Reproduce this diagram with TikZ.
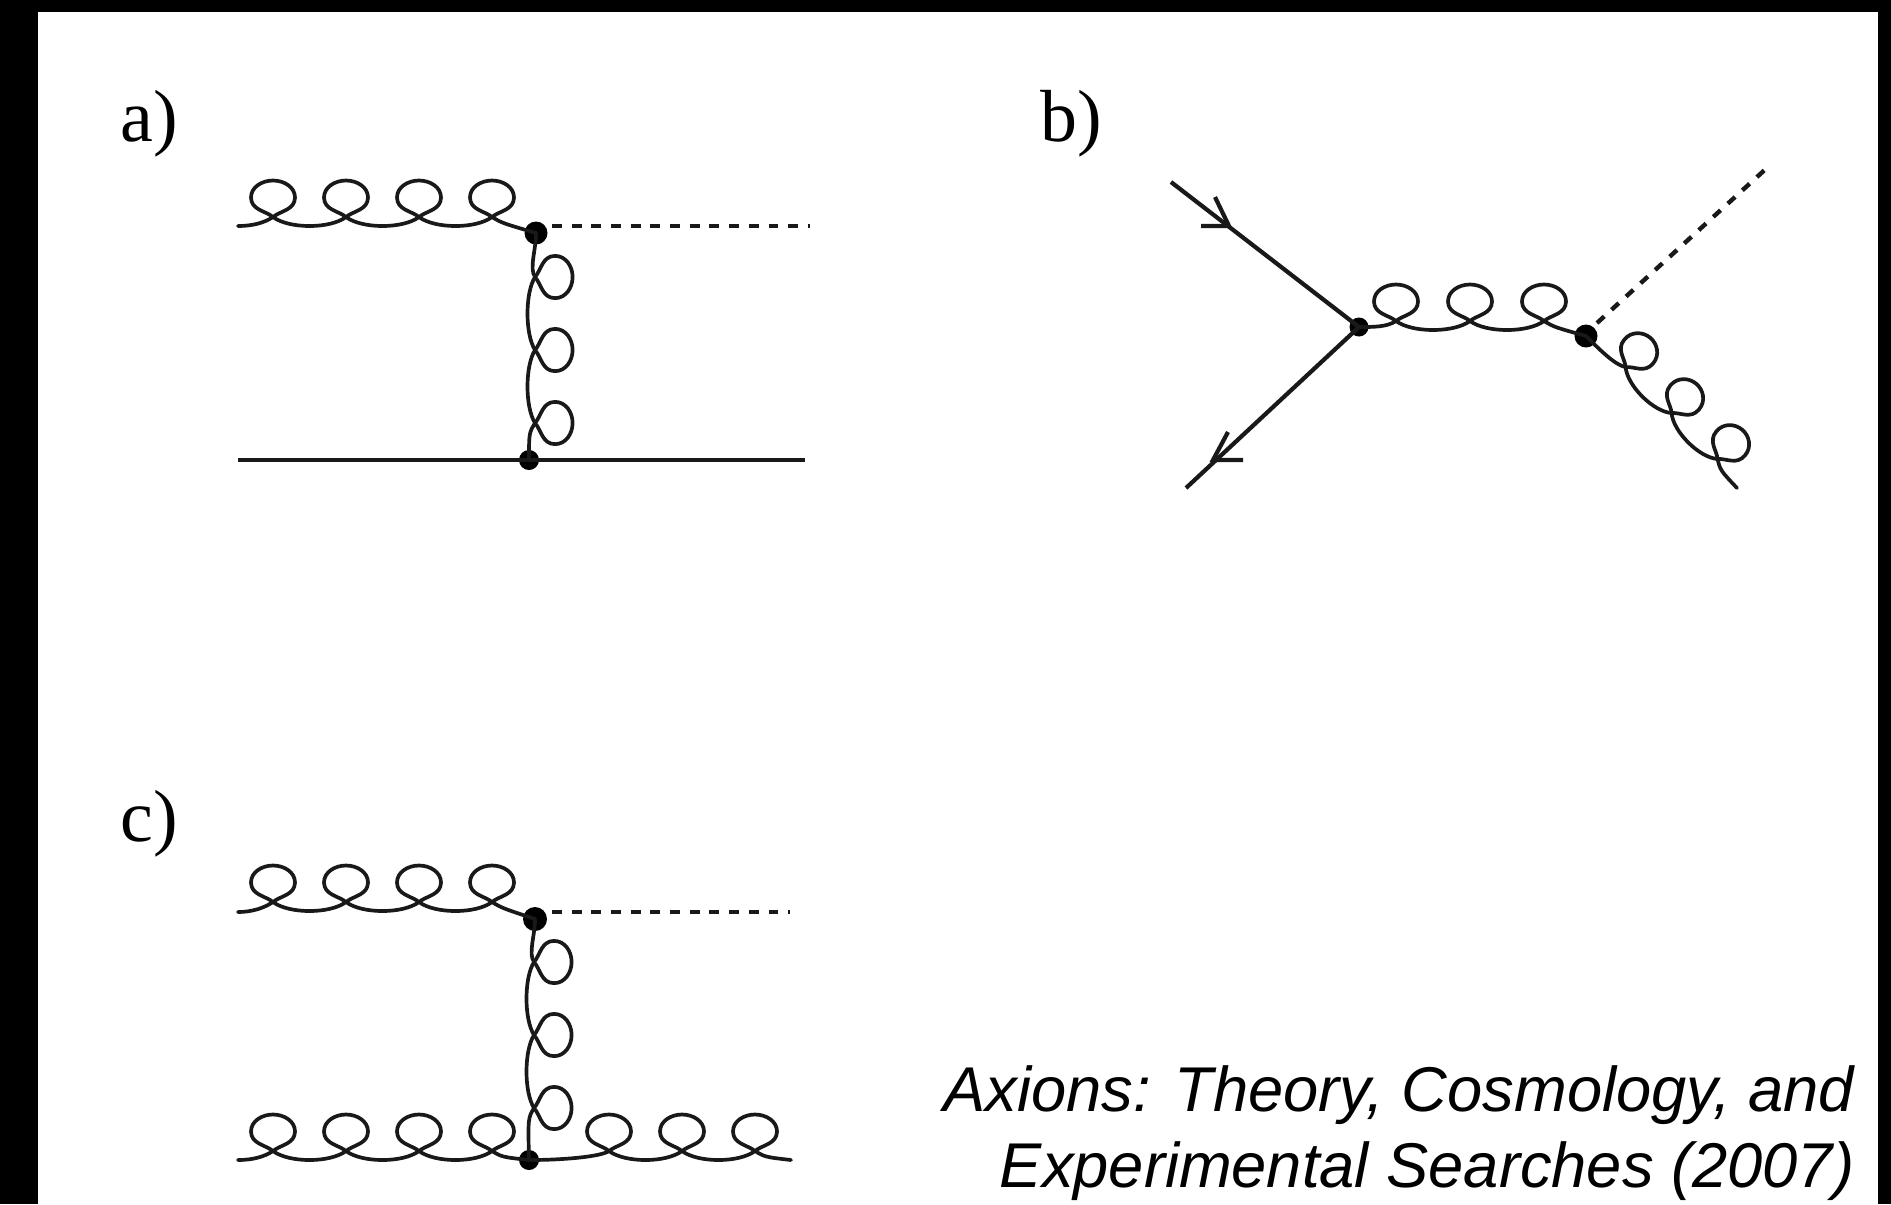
\documentclass[tikz,border=0pt]{standalone}
\usepackage{fontspec}
\setmainfont{Liberation Serif}
\newfontfamily\capfont{Liberation Sans}
\begin{document}
\begin{tikzpicture}[x=0.1mm,y=-0.1mm,
  gl/.style={line width=1.05pt,line cap=round,line join=round,black!90},
  solidline/.style={line width=1.2pt,black!90},
  dashline/.style={line width=1.25pt,black!90,dash pattern=on 2.8pt off 2.8pt},
  vertex/.style={circle,fill=black,inner sep=0pt,minimum size=#1},
  lab/.style={anchor=base west,font=\fontsize{21pt}{24pt}\selectfont,inner sep=0pt},
  captxt/.style={anchor=base east,font=\capfont\itshape\fontsize{18pt}{20pt}\selectfont,inner sep=0pt}]
\fill[black] (0,0) rectangle (1891,1204);
\fill[white] (38,12) rectangle (1878,1204);
\def\gldepth{12}
% #1 from, #2 to, #3 rotation, #4 lead, #5 pitch, #6 loops, #7 loop transform, #8 crossing height
\newcommand\gluon[8]{%
  \begin{scope}[shift={(#1)},rotate=#3]
    \draw[gl] (#1) .. controls (0.4*#4,0) and ({#4-9},{-(#8)+6}) .. (#4,{-(#8)});
    \foreach \i in {1,...,#6}{%
      \pgfmathsetmacro\cx{#4+(\i-1)*#5}
      \begin{scope}[shift={(\cx,{-(#8)})},#7]
        \draw[gl] (0,0) .. controls (7,-6) and (22,-7) .. (22,-19.5)
          .. controls (22,-30) and (11,-36.5) .. (0,-36.5)
          .. controls (-11,-36.5) and (-22,-30) .. (-22,-19.5)
          .. controls (-22,-7) and (-7,-6) .. (0,0);
      \end{scope}
      \ifnum\i<#6
        \draw[gl] (\cx,{-(#8)}) .. controls (\cx+0.22*#5,{-(#8)+\gldepth}) and (\cx+0.78*#5,{-(#8)+\gldepth}) .. (\cx+#5,{-(#8)});
      \else
        \draw[gl] (\cx,{-(#8)}) .. controls (\cx+10,{-(#8)+6}) .. (#2);
      \fi
    }
  \end{scope}}
% ---- a)
\node[lab] (la) at (120,141) {a)};
\coordinate (a1) at (238,226);
\coordinate (a2) at (810,226);
\coordinate (a3) at (238,460);
\coordinate (a4) at (805,460);
\node[vertex=2.3mm] (av) at (536,233) {};
\node[vertex=2.0mm] (aw) at (529,460) {};
\draw[solidline] (a3) -- (a4);
\coordinate (a5) at (552,226);
\draw[dashline] (a5) -- (a2);
\gluon{a1}{av.center}{0}{35}{73}{4}{}{9}
\def\gldepth{10}
\gluon{av.center}{aw.center}{-90}{44}{73}{3}{xscale=0.96,yscale=1.03}{-1}
\def\gldepth{12}
% ---- b)
\node[lab] (lb) at (1040,141) {b)};
\coordinate (b1) at (1171,182);
\coordinate (b2) at (1186,488);
\coordinate (b3) at (1769,166);
\coordinate (b4) at (1737,488);
\node[vertex=1.9mm] (bv) at (1359,327) {};
\node[vertex=2.3mm] (bw) at (1586,336) {};
\coordinate (bt1) at (1229,226);
\coordinate (bt2) at (1213,460);
\coordinate (bb1) at (1215,197);
\coordinate (bb2) at (1201,226);
\coordinate (bb3) at (1228,432);
\coordinate (bb4) at (1243,460);
\draw[solidline] (b1) -- (bv.center) -- (b2);
\draw[solidline] (bb1) -- (bt1) -- (bb2);
\draw[solidline] (bb3) -- (bt2) -- (bb4);
\coordinate (b5) at (1597,323);
\draw[dashline] (b5) -- (b3);
\gluon{bv.center}{bw.center}{0}{37}{74}{3}{}{6}
\gluon{bw.center}{b4}{-45}{50}{65}{3}{rotate=5,xscale=0.85,yscale=1.05}{6}
% ---- c)
\node[lab] (lc) at (120,841) {c)};
\coordinate (c1) at (238,912);
\coordinate (c2) at (790,912);
\coordinate (c3) at (238,1160);
\coordinate (c4) at (791,1160);
\node[vertex=2.4mm] (cv) at (535,919) {};
\node[vertex=2.0mm] (cw) at (529,1160) {};
\coordinate (c5) at (552,912);
\draw[dashline] (c5) -- (c2);
\gluon{c1}{cv.center}{0}{35}{73}{4}{}{10}
\gluon{c3}{cw.center}{0}{35}{73}{4}{}{9}
\gluon{cw.center}{c4}{0}{80}{73}{3}{}{9}
\def\gldepth{10}
\gluon{cv.center}{cw.center}{-90}{43}{73}{3}{xscale=0.96,yscale=1.03}{-1}
% ---- caption
\node[captxt] (t1) at (1855,1111) {Axions: Theory, Cosmology, and};
\node[captxt] (t2) at (1855,1187) {Experimental Searches (2007)};
\end{tikzpicture}
\end{document}
